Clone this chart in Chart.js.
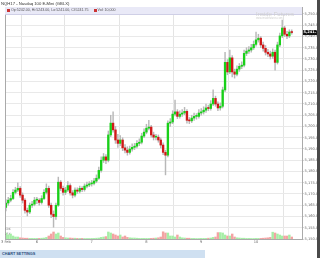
<!DOCTYPE html>
<html lang="en">
<head>
<meta charset="UTF-8">
<title>NQH17 - Nasdaq 100 E-Mini (GBLX)</title>
<script src="https://cdn.jsdelivr.net/npm/chart.js"></script>
<style>
    body { margin: 0; background: #fff; font-family: "Liberation Sans", Arial, sans-serif; }
    #page { position: relative; width: 320px; height: 258px; overflow: hidden; }
    #title { position: absolute; left: 1px; top: 1px; font-size: 4.2px; color: #333; white-space: nowrap; }
    #wrap { position: absolute; left: 0; top: 0; width: 317px; height: 258px; }
    #strip { position: absolute; left: 5px; top: 7px; width: 297px; height: 7px; background: #e9e9f7;
             border-bottom: 1px solid #cfcfe6; font-size: 3.6px; color: #555; white-space: nowrap; line-height: 7px; }
    #strip i { display: inline-block; width: 3px; height: 3px; background: #c33; margin: 0 1px 0 2px; vertical-align: middle; }
    #mark { position: absolute; left: 256px; top: 11px; color: #cfcfcf; font-size: 6px; white-space: nowrap; line-height: 6px; }
    #mark span { display: block; font-size: 2.6px; line-height: 3px; }
    #settings { position: absolute; left: 0; top: 250px; width: 205px; height: 8px; background: #cfe0f1;
                font-size: 3.8px; font-weight: bold; color: #2b4c7c; line-height: 8px; padding-left: 2px; box-sizing: border-box; }
    #edge { position: absolute; left: 317px; top: 0; width: 3px; height: 258px; background: #4a4a4a; }
</style>
</head>
<body>
<div id="page">
    <div id="wrap"><canvas id="myChart"></canvas></div>
    <div id="title">NQH17 - Nasdaq 100 E-Mini (GBLX)</div>
    <div id="strip"></div>
    <div id="mark">Inside Futures<span>www.insidefutures.com</span></div>
    <div id="settings">CHART SETTINGS</div>
    <div id="edge"></div>
</div>
<script>
    // hourly bars, Feb 3 - Feb 10 2017
    const dayLabels = ['3 Feb', '6', '7', '8', '9', '10'];
    const dayStart = [0, 13, 36, 59, 82, 105];
    const priceTicks = [5150, 5155, 5160, 5165, 5170, 5175, 5180, 5185, 5190, 5195, 5200,
                        5205, 5210, 5215, 5220, 5225, 5230, 5235, 5240, 5245, 5250];

    const openP = [5164.0,5166.0,5167.25,5168.0,5170.75,5171.75,5172.5,5169.5,5167.25,5162.75,5162.0,5165.0,5165.5,
        5167.25,5167.25,5166.25,5168.0,5170.75,5172.5,5165.0,5161.0,5160.0,5165.0,5175.25,5172.5,5170.75,5171.75,5173.75,5170.5,5169.5,5171.75,5171.25,5172.5,5172.0,5173.5,5174.0,
        5174.5,5174.75,5175.75,5177.0,5180.5,5185.0,5186.5,5185.0,5196.25,5201.5,5198.5,5194.0,5192.5,5194.0,5190.5,5189.5,5188.5,5190.0,5190.75,5191.25,5192.5,5193.0,5195.75,
        5197.5,5199.25,5199.75,5196.25,5195.25,5195.25,5194.0,5191.75,5188.5,5187.25,5201.5,5202.0,5205.5,5206.5,5204.5,5205.5,5206.0,5206.75,5202.75,5202.5,5203.75,5204.5,5204.5,
        5206.0,5206.5,5207.25,5208.25,5208.0,5210.0,5212.5,5210.0,5208.25,5209.0,5216.25,5228.5,5224.25,5230.5,5224.25,5223.25,5225.5,5226.75,5227.25,5232.5,5233.5,5234.0,5235.0,
        5236.5,5238.5,5239.25,5236.25,5234.75,5233.0,5232.25,5231.25,5233.0,5228.5,5236.25,5240.25,5243.75,5241.0,5240.25,5242.0];
    const closeP = [5166.0,5167.25,5168.0,5170.75,5171.75,5172.5,5169.5,5167.25,5162.75,5162.0,5165.0,5165.5,5167.25,
        5167.25,5166.25,5168.0,5170.75,5172.5,5165.0,5161.0,5160.0,5165.0,5175.25,5172.5,5170.75,5171.75,5173.75,5170.5,5169.5,5171.75,5171.25,5172.5,5172.0,5173.5,5174.0,5174.5,
        5174.75,5175.75,5177.0,5180.5,5185.0,5186.5,5185.0,5196.25,5201.5,5198.5,5194.0,5192.5,5194.0,5190.5,5189.5,5188.5,5190.0,5190.75,5191.25,5192.5,5193.0,5195.75,5197.5,
        5199.25,5199.75,5196.25,5195.25,5195.25,5194.0,5191.75,5188.5,5187.25,5201.5,5202.0,5205.5,5206.5,5204.5,5205.5,5206.0,5206.75,5202.75,5202.5,5203.75,5204.5,5204.5,5206.0,
        5206.5,5207.25,5208.25,5208.0,5210.0,5212.5,5210.0,5208.25,5209.0,5216.25,5228.5,5224.25,5230.5,5224.25,5223.25,5225.5,5226.75,5227.25,5232.5,5233.5,5234.0,5235.0,5236.5,
        5238.5,5239.25,5236.25,5234.75,5233.0,5232.25,5231.25,5233.0,5228.5,5236.25,5240.25,5243.75,5241.0,5240.25,5242.0,5241.75];
    const highP = [5167.5,5168.5,5169.5,5172,5173,5175,5173.25,5170.5,5168,5163.75,5166,5166.75,5168.5,
        5168.5,5168,5169.25,5172,5174.5,5173.5,5166,5162.5,5166,5177.5,5176,5173.5,5173,5175.5,5174.5,5171.5,5172.75,5172.75,5173.5,5173.25,5174.5,5175.25,5175.5,
        5176,5177,5178.5,5182,5186.5,5188,5187.5,5198,5205,5206.5,5200,5196.5,5196,5195,5192,5191,5191.25,5192.25,5192.5,5193.75,5194.5,5197,5199,
        5201,5202.75,5200.5,5197.5,5196.5,5196.25,5195,5192.75,5189.5,5202.5,5203.5,5207,5211.75,5207.5,5207,5207.5,5208.5,5207.5,5204,5205,5206,5205.75,5207.5,
        5208,5208.75,5210,5209.5,5211.5,5216.25,5213.5,5211,5210.5,5217.5,5233,5229.75,5234,5231.5,5225.5,5227,5228,5228.75,5234,5235,5235.5,5236.5,5238,
        5242,5241,5240,5237.5,5236,5234.25,5233.5,5234.5,5234,5237.5,5241.5,5247.25,5244.5,5242.25,5243,5243];
    const lowP = [5162.5,5165,5166.5,5167.5,5170,5171,5168.5,5166,5161.5,5160.25,5161.25,5164,5164.75,
        5165.75,5165,5165.5,5167.5,5170,5164,5159.5,5155.25,5158.75,5164.5,5171.5,5169.5,5169.75,5171,5169.5,5168.25,5168.75,5170.25,5170.5,5171,5171.25,5172.75,5173.25,
        5173.5,5174,5175,5176.5,5179.75,5184,5183.5,5184.25,5195.5,5197.5,5192.5,5190.75,5191.5,5189.25,5188.25,5187.25,5187.75,5189,5189.75,5190.5,5191.5,5192.25,5195,
        5196.75,5198.5,5195.25,5194,5194,5193,5190.5,5187.5,5178.5,5186.5,5200,5201.25,5204.75,5203.5,5203.75,5204.5,5205.25,5201.5,5201.25,5201.75,5202.75,5203.25,5203.75,
        5205,5205.5,5206.25,5207,5207.25,5209.25,5209,5207,5207.25,5208.25,5215.5,5223,5223.5,5222,5221.5,5222.5,5224.5,5225.75,5226.5,5231.5,5232.5,5233,5234.25,
        5235.75,5237.5,5235,5233.5,5231.75,5231,5230,5230.25,5225,5227.75,5235.5,5239.5,5240,5239,5239.5,5241];
    const volume = [30000,20000,25000,15000,10000,10000,6000,5000,4000,4000,3000,3000,3000,
        3000,3000,4000,5000,8000,15000,25000,35000,25000,30000,15000,8000,6000,5000,5000,4000,4000,3000,3000,3000,2500,2500,2500,
        3000,3000,4000,5000,8000,10000,12000,35000,30000,25000,20000,15000,20000,10000,15000,8000,6000,5000,5000,4000,3000,3000,3000,
        3000,3000,3000,4000,5000,6000,10000,36000,30000,30000,15000,15000,10000,20000,10000,6000,5000,4000,4000,3000,3000,2500,2500,
        3000,3000,3000,4000,5000,8000,10000,32000,32000,30000,20000,15000,15000,25000,10000,6000,5000,4000,4000,3000,3000,2500,2500,
        3000,3000,3000,4000,5000,6000,8000,34000,30000,25000,20000,15000,15000,15000,20000,10000];

    const up = openP.map((o, i) => closeP[i] >= o);
    const n = closeP.length;
    const last = n - 1;
    const fmt = v => v.toLocaleString('en-US', { minimumFractionDigits: 2, maximumFractionDigits: 2 });

    document.getElementById('strip').innerHTML =
        '<i></i>Op:' + openP[last].toFixed(2) + ', Hi:' + highP[last].toFixed(2) +
        ', Lo:' + lowP[last].toFixed(2) + ', Cl:' + closeP[last].toFixed(2) +
        '&nbsp;&nbsp;&nbsp;<i></i>Vol: ' + volume[last].toLocaleString('en-US');

    const tickFont = { family: 'DejaVu Sans', size: 3.6 };

    const lastPriceBox = {
        id: 'lastPriceBox',
        afterDraw(chart) {
            const c = chart.ctx, a = chart.chartArea;
            const y = chart.scales.y.getPixelForValue(closeP[last]);
            c.save();
            c.fillStyle = '#111';
            c.fillRect(a.right + 1, y - 2.5, 14, 5);
            c.fillStyle = '#fff';
            c.font = 'bold 3.6px DejaVu Sans';
            c.textBaseline = 'middle';
            c.fillText(fmt(closeP[last]), a.right + 1.5, y);
            c.restore();
        }
    };

    const ctx = document.getElementById('myChart').getContext('2d');
    const myChart = new Chart(ctx, {
        type: 'bar',
        data: {
            datasets: [{
                label: 'Body',
                data: closeP.map((c, i) => ({ x: i, y: [openP[i], c] })),
                backgroundColor: up.map(u => u ? '#19d019' : '#d01818'),
                borderWidth: 0,
                barThickness: 1.7,
                minBarLength: 1,
                grouped: false,
                yAxisID: 'y',
                order: 1
            }, {
                label: 'Wick',
                data: closeP.map((c, i) => ({ x: i, y: [lowP[i], highP[i]] })),
                backgroundColor: '#b8b8b8',
                borderWidth: 0,
                barThickness: 0.8,
                grouped: false,
                yAxisID: 'y',
                order: 2
            }, {
                label: 'Volume',
                data: volume.map((v, i) => ({ x: i, y: v })),
                backgroundColor: up.map(u => u ? '#a6eea6' : '#f3a3a3'),
                borderWidth: 0,
                barThickness: 1.8,
                grouped: false,
                yAxisID: 'yv',
                order: 3
            }]
        },
        options: {
            responsive: true,
            maintainAspectRatio: false,
            animation: false,
            layout: { padding: { top: 7, left: 0, right: 0, bottom: 0 } },
            plugins: { legend: { display: false }, tooltip: { enabled: false } },
            scales: {
                x: {
                    type: 'linear',
                    min: 0,
                    max: 124.3,
                    offset: false,
                    afterBuildTicks: s => { s.ticks = dayStart.map(v => ({ value: v })); },
                    afterFit: s => { s.height = 19; },
                    ticks: {
                        autoSkip: false,
                        maxRotation: 0,
                        padding: 1,
                        color: '#666',
                        font: tickFont,
                        callback: (v, i) => dayLabels[i]
                    },
                    grid: { color: '#e4e4e4', drawTicks: false, lineWidth: 1 },
                    border: { color: '#aaa' }
                },
                y: {
                    position: 'right',
                    min: 5150,
                    max: 5253.11,
                    afterBuildTicks: s => { s.ticks = priceTicks.map(v => ({ value: v })); },
                    afterFit: s => { s.width = 15; },
                    ticks: {
                        padding: 1,
                        color: '#666',
                        font: tickFont,
                        callback: v => fmt(v)
                    },
                    grid: { color: '#e9e9e9', tickLength: 1.5, tickColor: '#aaa' },
                    border: { color: '#aaa' }
                },
                yv: {
                    position: 'left',
                    min: 0,
                    max: 1160000,
                    afterBuildTicks: s => { s.ticks = [{ value: 25000 }, { value: 50000 }]; },
                    afterFit: s => { s.width = 5; },
                    ticks: {
                        mirror: true,
                        padding: -1,
                        color: '#888',
                        font: { family: 'DejaVu Sans', size: 3 },
                        callback: v => (v / 1000) + 'K'
                    },
                    grid: { display: false },
                    border: { color: '#aaa' }
                }
            }
        },
        plugins: [lastPriceBox]
    });
</script>
</body>
</html>
